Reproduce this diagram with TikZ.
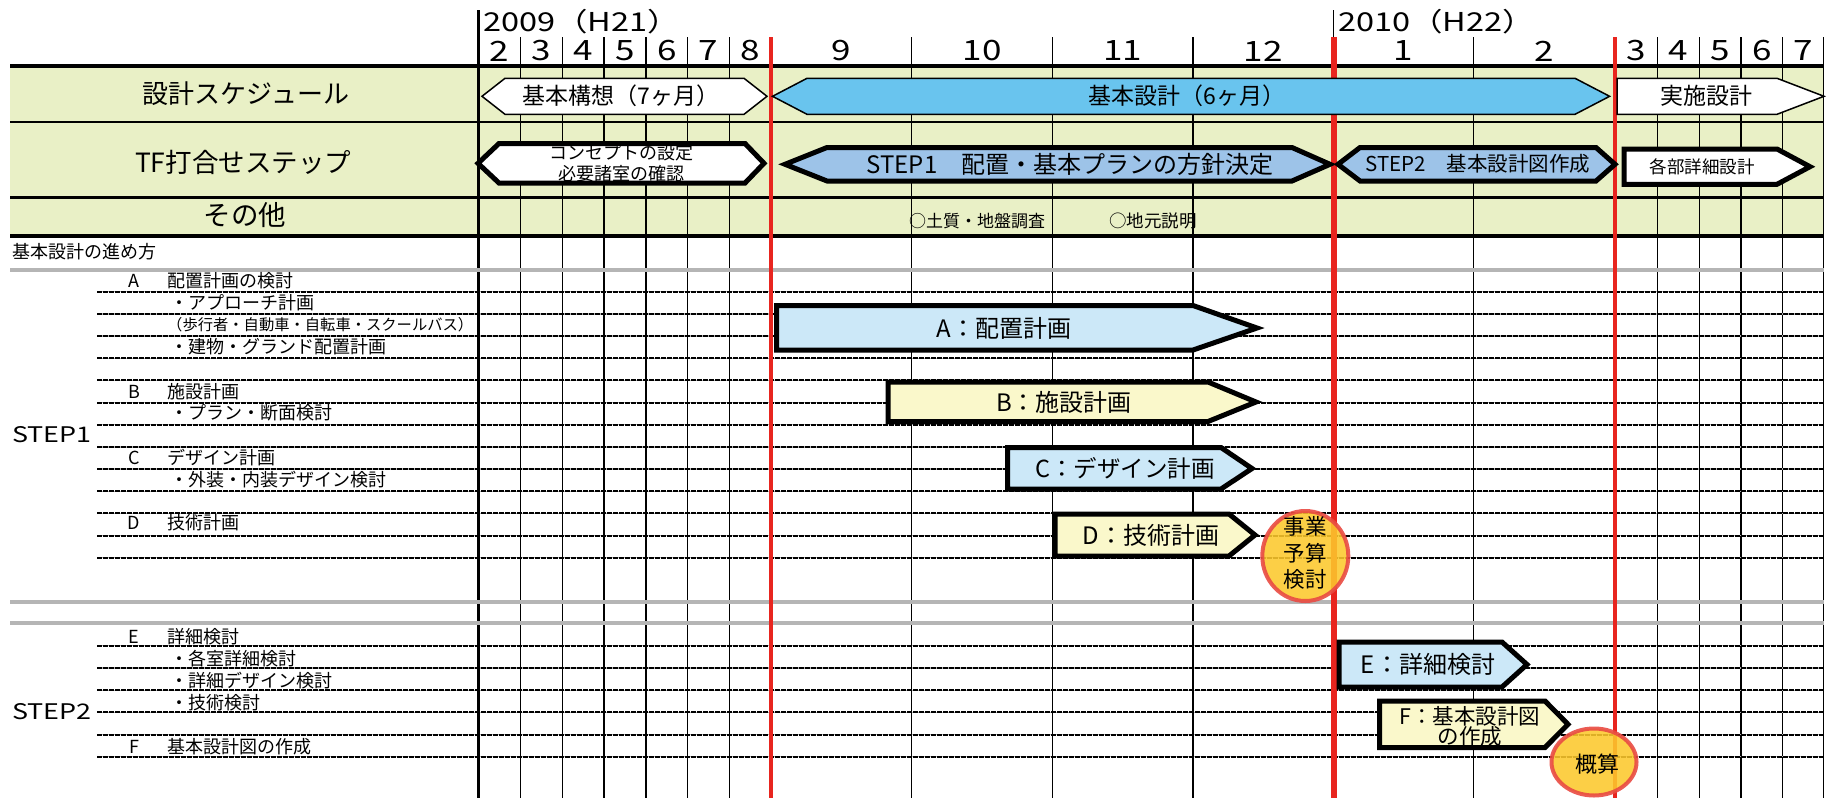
\documentclass[tikz,border=0pt]{standalone}
\usepackage{fontspec}
\setmainfont{Noto Sans CJK JP}
\newfontfamily\widefont[FakeStretch=1.25]{Noto Sans CJK JP}
\definecolor{hdrgreen}{HTML}{E9F0C6}
\definecolor{skyblue}{HTML}{69C4EE}
\definecolor{stepblue}{HTML}{9DC3E8}
\definecolor{barblue}{HTML}{CCE8F8}
\definecolor{baryellow}{HTML}{FAF8CB}
\definecolor{myred}{HTML}{E8251F}
\definecolor{gold}{HTML}{FCC82C}
\definecolor{ringred}{HTML}{E94A43}
\newcommand\fsz[2]{\fontsize{#1}{#2}\selectfont}
\begin{document}
\begin{tikzpicture}[x=1pt,y=-1pt,
  gridline/.style={line width=1.3pt,draw=black},
  redline/.style={line width=#1,draw=myred},
  hdrshape/.style={draw=black,line width=1.5pt,line join=miter},
  thickshape/.style={draw=black,line width=5pt,line join=miter},
  ring/.style={fill=gold,fill opacity=0.88,draw=ringred,draw opacity=0.9,line width=4pt},
  lbl/.style={inner sep=0pt,anchor=west,font=\fsz{18}{20}},
  ctr/.style={inner sep=0pt,anchor=center,align=center}]
\useasboundingbox (0,0) rectangle (1836,798);
% header background
\fill[hdrgreen] (10,65.5) rectangle (1824,235.5);
% vertical grid lines
\foreach \x in {520.4,562.2,604.1,645.9,687.8,729.6,911.3,1052.5,1193,1473.8,1657.4,1699.2,1741,1782.7,1823.5}
  \draw[gridline] (\x,37) -- (\x,798);
\draw[line width=2.7pt] (478.6,10) -- (478.6,798);
\draw[line width=1.5pt] (1333.5,10) -- (1333.5,40);
% horizontal header lines
\draw[line width=4pt] (10,65.5) -- (1824,65.5);
\draw[line width=2.7pt] (10,122) -- (1824,122);
\draw[line width=2.7pt] (10,197.5) -- (1824,197.5);
\draw[line width=4pt] (10,235.5) -- (1824,235.5);
% gray lines
\draw[line width=4pt,gray!95!black!55] (10,270) -- (1824,270);
\draw[line width=4pt,gray!95!black!55] (10,601.7) -- (1824,601.7);
\draw[line width=4pt,gray!95!black!55] (10,623.3) -- (1824,623.3);
% dashed lines
\foreach \y in {291.7,313.9,336.0,358.2,380.4,402.5,424.7,446.9,469.0,491.2,513.4,535.6,557.7,645.7,667.9,690.1,712.3,734.5,756.7}{
  \draw[line width=1.2pt,gray!60] (97,\y) -- (1824,\y);
  \draw[line width=2pt,dash pattern=on 4.5pt off 1.5pt] (97,\y) -- (1824,\y);
}
% red lines
\draw[redline=4pt] (770.5,37) -- (770.5,798);
\draw[redline=6pt] (1333.5,37) -- (1333.5,798);
\draw[redline=4pt] (1615,37) -- (1615,798);
% year and month labels
\node[inner sep=0pt,anchor=west,font=\widefont\fsz{26}{30}] (y2009) at (483,22) {2009（H21）};
\node[inner sep=0pt,anchor=west,font=\widefont\fsz{26}{30}] (y2010) at (1338,22) {2010（H22）};
\foreach \x/\m [count=\i] in {499.5/2,541.3/3,583.2/4,625/5,666.9/6,708.7/7,750/8,840.9/9,982/10,1122.7/11,1263/12,1403.6/1,1544.4/2,1636/3,1678/4,1720/5,1762/6,1803/7}
  \node[ctr,font=\widefont\fsz{28}{30}] (m\i) at (\x,51) {\m};
% header row labels
\node[ctr,font=\fsz{26}{30}] (r1) at (246,94) {設計スケジュール};
\node[ctr,font=\fsz{26.5}{30}] (r2) at (243,162) {TF打合せステップ};
\node[ctr,font=\fsz{27.5}{30}] (r3) at (245,215) {その他};
% row 1 shapes
\draw[hdrshape,fill=white] (482,96.3) -- (505,78.3) -- (744,78.3) -- (767,96.3) -- (744,114.3) -- (505,114.3) -- cycle;
\node[ctr,font=\fsz{23}{24}] (kihonkoso) at (621,96) {基本構想（7ヶ月）};
\draw[hdrshape,fill=skyblue] (772.5,96.3) -- (807,78.3) -- (1575,78.3) -- (1609.6,96.3) -- (1575,114.3) -- (807,114.3) -- cycle;
\node[ctr,font=\fsz{23}{24}] (kihonsekkei) at (1187,96) {基本設計（6ヶ月）};
\draw[hdrshape,fill=white] (1617,78.3) -- (1777,78.3) -- (1824,96.3) -- (1777,114.3) -- (1617,114.3) -- cycle;
\node[ctr,font=\fsz{23}{24}] (jisshi) at (1706,96) {実施設計};
% row 2 shapes
\draw[thickshape,fill=white] (478,163.3) -- (499,143.5) -- (745,143.5) -- (764,163.3) -- (745,183) -- (499,183) -- cycle;
\node[ctr,font=\fsz{18}{20.6}] (concept) at (621,163) {コンセプトの設定\\必要諸室の確認};
\draw[thickshape,fill=stepblue] (785,164.3) -- (827,147.5) -- (1292,147.5) -- (1330,164.3) -- (1292,181) -- (827,181) -- cycle;
\node[ctr,font=\fsz{24}{26}] (step1) at (1070,164) {STEP1　配置・基本プランの方針決定};
\draw[thickshape,fill=stepblue] (1338,164.3) -- (1360,147.5) -- (1596,147.5) -- (1615,164.3) -- (1596,181) -- (1360,181) -- cycle;
\node[ctr,font=\fsz{20.5}{24}] (step2) at (1478,164) {STEP2　基本設計図作成};
\draw[thickshape,fill=white] (1624,149) -- (1777,149) -- (1810,166.7) -- (1777,184.3) -- (1624,184.3) -- cycle;
\node[ctr,font=\fsz{17.5}{20}] (kakubu) at (1702,166.5) {各部詳細設計};
% row 3 texts
\node[lbl,font=\fsz{17}{20}] (dositsu) at (909,221) {○土質・地盤調査};
\node[lbl,font=\fsz{17.5}{20}] (jimoto) at (1109,221) {○地元説明};
% lower-left texts
\node[lbl] (susumekata) at (12,251.5) {基本設計の進め方};
\node[lbl,font=\widefont\fsz{21.5}{26}] (s1) at (12,435) {STEP1};
\node[lbl,font=\widefont\fsz{21.5}{26}] (s2) at (12,711.5) {STEP2};
\node[ctr,font=\fsz{18}{20}] (la) at (134,281) {A};
\node[lbl] (ta) at (167,281) {配置計画の検討};
\node[lbl] (ta1) at (170,303) {・アプローチ計画};
\node[lbl,font=\fsz{15.3}{18}] (ta2) at (167,325) {（歩行者・自動車・自転車・スクールバス）};
\node[lbl] (ta3) at (170,347) {・建物・グランド配置計画};
\node[ctr,font=\fsz{18}{20}] (lb) at (134,391.5) {B};
\node[lbl] (tb) at (167,391.5) {施設計画};
\node[lbl] (tb1) at (170,413) {・プラン・断面検討};
\node[ctr,font=\fsz{18}{20}] (lc) at (134,458) {C};
\node[lbl] (tc) at (167,458) {デザイン計画};
\node[lbl] (tc1) at (170,480) {・外装・内装デザイン検討};
\node[ctr,font=\fsz{18}{20}] (ld) at (134,523) {D};
\node[lbl] (td) at (167,523) {技術計画};
\node[ctr,font=\fsz{18}{20}] (le) at (134,636.5) {E};
\node[lbl] (te) at (167,636.5) {詳細検討};
\node[lbl] (te1) at (170,659) {・各室詳細検討};
\node[lbl] (te2) at (170,680.5) {・詳細デザイン検討};
\node[lbl] (te3) at (170,702.5) {・技術検討};
\node[ctr,font=\fsz{18}{20}] (lf) at (134,746.5) {F};
\node[lbl] (tf) at (167,746.5) {基本設計図の作成};
% bars
\draw[thickshape,fill=barblue] (776.5,305.5) -- (1193,305.5) -- (1257,328) -- (1193,350) -- (776.5,350) -- cycle;
\node[ctr,font=\fsz{24}{24}] (bara) at (1004,328) {A：配置計画};
\draw[thickshape,fill=baryellow] (888,382) -- (1208,382) -- (1256,402) -- (1208,421.5) -- (888,421.5) -- cycle;
\node[ctr,font=\fsz{24}{24}] (barb) at (1064,402) {B：施設計画};
\draw[thickshape,fill=barblue] (1007.5,447.5) -- (1221,447.5) -- (1252,468.5) -- (1221,489) -- (1007.5,489) -- cycle;
\node[ctr,font=\fsz{23.5}{24}] (barc) at (1125,468.5) {C：デザイン計画};
\draw[thickshape,fill=baryellow] (1055,514) -- (1229,514) -- (1255,535) -- (1229,556) -- (1055,556) -- cycle;
\node[ctr,font=\fsz{24}{24}] (bard) at (1151,535) {D：技術計画};
\draw[thickshape,fill=barblue] (1339,642) -- (1502,642) -- (1527,664.5) -- (1502,687) -- (1339,687) -- cycle;
\node[ctr,font=\fsz{24}{24}] (bare) at (1428,664) {E：詳細検討};
\draw[thickshape,fill=baryellow] (1379.5,701) -- (1545,701) -- (1568,724.3) -- (1545,747.5) -- (1379.5,747.5) -- cycle;
\node[ctr,font=\fsz{21.5}{20}] (barf) at (1470,726) {F：基本設計図\\の作成};
% rings
\draw[ring] (1305.3,556) ellipse [x radius=43,y radius=45];
\node[ctr,font=\fsz{21.5}{26.5}] (jigyo) at (1305,553) {事業\\予算\\検討};
\draw[ring] (1594,762) ellipse [x radius=42.5,y radius=33.5];
\node[ctr,font=\fsz{22}{24}] (gaisan) at (1597,764) {概算};
\end{tikzpicture}
\end{document}
